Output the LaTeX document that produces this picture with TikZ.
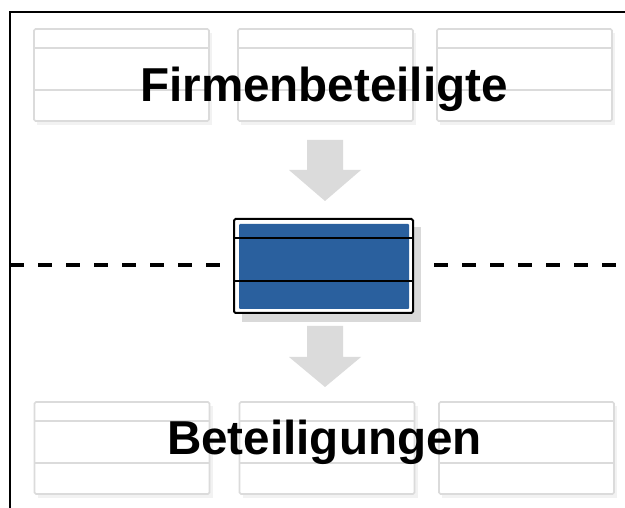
\documentclass[tikz,border=0pt]{standalone}
\usepackage{fontspec}
\setmainfont{Liberation Sans}
\begin{document}
\begin{tikzpicture}[x=1pt,y=-1pt,
  boxline/.style={draw=black!14,line width=1.6pt},
  tbox/.style={boxline,rounded corners=1.5pt,fill=white,minimum width=175pt,minimum height=92pt,inner sep=0pt,
    path picture={\draw[boxline] ([yshift=-19pt]path picture bounding box.north west) -- ([yshift=-19pt]path picture bounding box.north east);
                  \draw[boxline] ([yshift=-61pt]path picture bounding box.north west) -- ([yshift=-61pt]path picture bounding box.north east);}},
  shadowbox/.style={fill=black!5,draw=none,minimum width=175pt,minimum height=92pt,inner sep=0pt},
  bigarrow/.style={fill=black!14,draw=none},
  title/.style={font=\bfseries\fontsize{47.6pt}{50pt}\selectfont,inner sep=0pt,anchor=base},
  dashline/.style={line width=3.5pt,dash pattern=on 14pt off 14pt},
]
\useasboundingbox (0,0) rectangle (625,508);
\fill[white] (0,0) rectangle (625,508);
% frame
\draw[line width=2.2pt] (10,520) -- (10,12) -- (640,12);
% top boxes
\foreach \n/\x in {t1/121.5,t2/325.5,t3/524.5}{
  \node[shadowbox] at (\x+3,79) {};
  \node[tbox] (\n) at (\x,75) {};
}
% bottom boxes
\foreach \n/\x in {b1/122,b2/327,b3/526.5}{
  \node[shadowbox] at (\x+3,452) {};
  \node[tbox] (\n) at (\x,448) {};
}
% arrows
\fill[bigarrow] (307,140) -- (343,140) -- (343,170) -- (361,170) -- (325,201) -- (289,170) -- (307,170) -- cycle;
\fill[bigarrow] (307,326) -- (343,326) -- (343,357) -- (361,357) -- (325,387) -- (289,357) -- (307,357) -- cycle;
% middle box
\fill[black!15] (242,227) rectangle (421,322);
\node[draw=black,line width=2pt,fill=white,rounded corners=1.5pt,minimum width=179pt,minimum height=94pt,inner sep=0pt] (mid) at (323.5,266) {};
\fill[fill={rgb,255:red,42;green,96;blue,158},rounded corners=1pt] (239,224) rectangle (409,309);
\draw[line width=2pt] (mid.west |- 0,238) -- (mid.east |- 0,238);
\draw[line width=2pt] (mid.west |- 0,281) -- (mid.east |- 0,281);
% dashed line
\coordinate (dl) at (10,265);
\coordinate (dr) at (640,265);
\draw[dashline] (dl) -- ([xshift=-10pt]mid.west |- dl);
\draw[dashline] ([xshift=20pt]mid.east |- dr) -- (dr);
% titles
\node[title] (top) at (324,102) {Firmenbeteiligte};
\node[title] (bot) at (324.5,454) {Beteiligungen};
\end{tikzpicture}
\end{document}
